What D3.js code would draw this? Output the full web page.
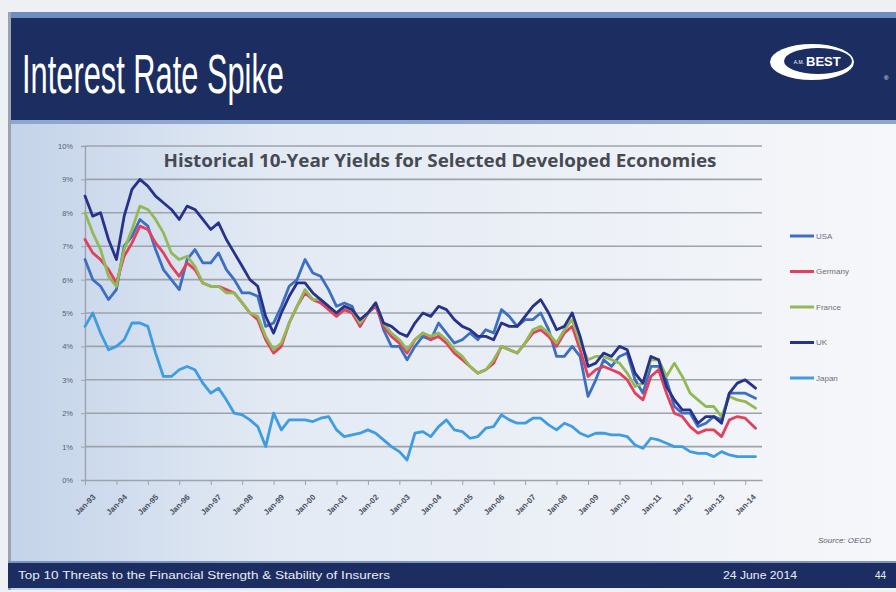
<!DOCTYPE html>
<html>
<head>
<meta charset="utf-8">
<script src="https://cdn.jsdelivr.net/npm/d3@7"></script>
<style>
  html, body { margin: 0; padding: 0; background: #eef0f3; }
  svg { display: block; }
</style>
</head>
<body>
<svg id="slide" width="896" height="592"></svg>
<script>
// Quarterly observations, Jan-93 .. Jan-14, plus the latest reading (May-14)
const seriesNames = ["USA", "Germany", "France", "UK", "Japan"];
const seriesColors = ["#3d6fc0", "#e2405c", "#93b956", "#27338a", "#3f9ce0"];

const usa = [
  6.6, 6.0, 5.8, 5.4,  5.7, 7.0, 7.3, 7.8,  7.6, 6.9, 6.3, 6.0,  5.7, 6.6, 6.9, 6.5,
  6.5, 6.8, 6.3, 6.0,  5.6, 5.6, 5.5, 4.6,  4.7, 5.2, 5.8, 6.0,  6.6, 6.2, 6.1, 5.7,
  5.2, 5.3, 5.2, 4.6,  5.0, 5.3, 4.5, 4.0,  4.0, 3.6, 4.0, 4.3,  4.2, 4.7, 4.4, 4.1,
  4.2, 4.4, 4.2, 4.5,  4.4, 5.1, 4.9, 4.6,  4.8, 4.8, 5.0, 4.5,  3.7, 3.7, 4.0, 3.7,
  2.5, 3.0, 3.6, 3.4,  3.7, 3.8, 3.0, 2.6,  3.4, 3.4, 3.0, 2.2,  2.0, 2.0, 1.6, 1.7,
  1.9, 1.8, 2.6, 2.6,  2.6, 2.45
];
const germany = [
  7.2, 6.8, 6.6, 6.3,  5.9, 6.7, 7.1, 7.6,  7.5, 7.1, 6.8, 6.4,  6.1, 6.5, 6.3, 5.9,
  5.8, 5.8, 5.7, 5.6,  5.3, 5.0, 4.8, 4.2,  3.8, 4.0, 4.7, 5.2,  5.6, 5.4, 5.3, 5.1,
  4.9, 5.1, 5.0, 4.6,  5.0, 5.2, 4.6, 4.3,  4.1, 3.8, 4.2, 4.4,  4.2, 4.3, 4.1, 3.8,
  3.6, 3.4, 3.2, 3.3,  3.5, 4.0, 3.9, 3.8,  4.1, 4.4, 4.5, 4.3,  4.0, 4.4, 4.6, 3.9,
  3.1, 3.3, 3.4, 3.3,  3.2, 3.0, 2.6, 2.4,  3.1, 3.3, 2.6, 2.0,  1.9, 1.6, 1.4, 1.5,
  1.5, 1.3, 1.8, 1.9,  1.85, 1.55
];
const france = [
  8.0, 7.4, 6.9, 6.1,  5.8, 6.9, 7.5, 8.2,  8.1, 7.8, 7.4, 6.8,  6.6, 6.7, 6.4, 5.9,
  5.8, 5.8, 5.6, 5.6,  5.3, 5.0, 4.9, 4.3,  3.9, 4.1, 4.7, 5.2,  5.7, 5.4, 5.4, 5.2,
  5.0, 5.2, 5.1, 4.7,  5.0, 5.3, 4.7, 4.4,  4.2, 3.9, 4.2, 4.4,  4.3, 4.4, 4.2, 3.9,
  3.7, 3.4, 3.2, 3.3,  3.6, 4.0, 3.9, 3.8,  4.1, 4.5, 4.6, 4.4,  4.1, 4.5, 4.8, 4.1,
  3.6, 3.7, 3.7, 3.6,  3.5, 3.2, 2.8, 2.9,  3.6, 3.6, 3.1, 3.5,  3.1, 2.6, 2.4, 2.2,
  2.2, 1.9, 2.5, 2.4,  2.35, 2.15
];
const uk = [
  8.5, 7.9, 8.0, 7.2,  6.6, 7.9, 8.7, 9.0,  8.8, 8.5, 8.3, 8.1,  7.8, 8.2, 8.1, 7.8,
  7.5, 7.7, 7.2, 6.8,  6.4, 6.0, 5.8, 4.9,  4.4, 5.0, 5.5, 5.9,  5.9, 5.6, 5.4, 5.2,
  5.0, 5.2, 5.1, 4.8,  5.0, 5.3, 4.7, 4.6,  4.4, 4.3, 4.7, 5.0,  4.9, 5.2, 5.1, 4.8,
  4.6, 4.5, 4.3, 4.3,  4.2, 4.7, 4.6, 4.6,  4.9, 5.2, 5.4, 5.0,  4.5, 4.6, 5.0, 4.3,
  3.4, 3.5, 3.8, 3.7,  4.0, 3.9, 3.2, 2.9,  3.7, 3.6, 2.8, 2.4,  2.1, 2.1, 1.7, 1.9,
  1.9, 1.7, 2.6, 2.9,  3.0, 2.75
];
const japan = [
  4.6, 5.0, 4.4, 3.9,  4.0, 4.2, 4.7, 4.7,  4.6, 3.8, 3.1, 3.1,  3.3, 3.4, 3.3, 2.9,
  2.6, 2.75, 2.4, 2.0, 1.95, 1.8, 1.6, 1.0, 2.0, 1.5, 1.8, 1.8,  1.8, 1.75, 1.85, 1.9,
  1.5, 1.3, 1.35, 1.4, 1.5, 1.4, 1.2, 1.0,  0.85, 0.6, 1.4, 1.45, 1.3, 1.6, 1.8, 1.5,
  1.45, 1.25, 1.3, 1.55, 1.6, 1.95, 1.8, 1.7, 1.7, 1.85, 1.85, 1.65, 1.5, 1.7, 1.6, 1.4,
  1.3, 1.4, 1.4, 1.35, 1.35, 1.3, 1.05, 0.95, 1.25, 1.2, 1.1, 1.0,  1.0, 0.85, 0.8, 0.8,
  0.7, 0.85, 0.75, 0.7, 0.7, 0.7
];
const yTicks = [0, 1, 2, 3, 4, 5, 6, 7, 8, 9, 10];

const dates = d3.timeMonth.range(new Date(1993, 0, 1), new Date(2014, 1, 1), 3)
  .concat([new Date(2014, 4, 1)]);
const yearTicks = d3.timeYear.range(new Date(1993, 0, 1), new Date(2014, 1, 1));
const seriesValues = [usa, germany, france, uk, japan];

const svg = d3.select("#slide");
const defs = svg.append("defs");

// ---- slide frame -------------------------------------------------------
const bg = defs.append("linearGradient").attr("id", "panelBg")
  .attr("x1", "0").attr("x2", "1").attr("y1", "0").attr("y2", "0");
bg.append("stop").attr("offset", "0").attr("stop-color", "#c3d3e9");
bg.append("stop").attr("offset", "0.3").attr("stop-color", "#e3eaf4");
bg.append("stop").attr("offset", "1").attr("stop-color", "#f6f7fa");

svg.append("rect").attr("x", 8).attr("y", 12).attr("width", 888).attr("height", 578)
  .attr("fill", "url(#panelBg)");
svg.append("rect").attr("x", 8).attr("y", 12).attr("width", 888).attr("height", 6)
  .attr("fill", "#6f8cc0");
svg.append("rect").attr("x", 8).attr("y", 18).attr("width", 888).attr("height", 102)
  .attr("fill", "#1c2e61");
svg.append("rect").attr("x", 8).attr("y", 120).attr("width", 888).attr("height", 4)
  .attr("fill", "#8fa6cf");
svg.append("rect").attr("x", 8).attr("y", 12).attr("width", 3).attr("height", 578)
  .attr("fill", "#9aa3b0");

svg.append("text")
  .attr("x", 22).attr("y", 93)
  .attr("textLength", 262).attr("lengthAdjust", "spacingAndGlyphs")
  .attr("font-family", "'Liberation Sans Narrow', 'Arial Narrow', 'Liberation Sans', sans-serif")
  .attr("font-size", 56).attr("fill", "#ffffff")
  .text("Interest Rate Spike");

// logo
const logo = svg.append("g");
logo.append("ellipse").attr("cx", 812).attr("cy", 62).attr("rx", 42).attr("ry", 18).attr("fill", "#ffffff");
logo.append("ellipse").attr("cx", 818).attr("cy", 61).attr("rx", 34).attr("ry", 13).attr("fill", "#1c2e61");
logo.append("text").attr("x", 806).attr("y", 66)
  .attr("font-family", "'Liberation Sans', Arial, sans-serif").attr("font-weight", "bold")
  .attr("font-size", 13).attr("fill", "#ffffff").text("BEST");
logo.append("text").attr("x", 804).attr("y", 64).attr("text-anchor", "end")
  .attr("font-family", "'Liberation Sans', Arial, sans-serif").attr("font-size", 5)
  .attr("fill", "#ffffff").text("A.M.");
logo.append("text").attr("x", 884).attr("y", 80)
  .attr("font-family", "'Liberation Sans', Arial, sans-serif").attr("font-size", 6)
  .attr("fill", "#ffffff").text("®");

// footer
svg.append("rect").attr("x", 8).attr("y", 563).attr("width", 888).attr("height", 25)
  .attr("fill", "#1c2e61");
svg.append("rect").attr("x", 8).attr("y", 561).attr("width", 888).attr("height", 2)
  .attr("fill", "#7d93bf");
const footFont = "'Liberation Sans Narrow', 'Arial Narrow', 'Liberation Sans', sans-serif";
svg.append("text").attr("x", 18).attr("y", 579)
  .attr("textLength", 372).attr("lengthAdjust", "spacingAndGlyphs")
  .attr("font-family", footFont).attr("font-size", 10).attr("fill", "#e8ecf5")
  .text("Top 10 Threats to the Financial Strength & Stability of Insurers");
svg.append("text").attr("x", 723).attr("y", 579)
  .attr("textLength", 74).attr("lengthAdjust", "spacingAndGlyphs")
  .attr("font-family", footFont).attr("font-size", 10).attr("fill", "#e8ecf5")
  .text("24 June 2014");
svg.append("text").attr("x", 875).attr("y", 579)
  .attr("font-family", footFont).attr("font-size", 10).attr("fill", "#e8ecf5")
  .text("44");

// ---- chart ---------------------------------------------------------------
const x = d3.scaleTime()
  .domain([new Date(1993, 0, 1), new Date(2014, 6, 15)])
  .range([85, 762]);
const y = d3.scaleLinear().domain([0, 10]).range([480, 146]);

const chart = svg.append("g");

// horizontal gridlines
chart.append("g")
  .selectAll("line").data(yTicks.filter(d => d > 0)).join("line")
  .attr("x1", x.range()[0]).attr("x2", x.range()[1])
  .attr("y1", d => y(d)).attr("y2", d => y(d))
  .attr("stroke", "#9ea3ab").attr("stroke-width", 1.6);

// y axis
const yAxis = chart.append("g").attr("transform", `translate(${x.range()[0]},0)`)
  .call(d3.axisLeft(y).tickValues(yTicks).tickFormat(d => d + "%").tickSize(4).tickPadding(8));
yAxis.select(".domain").attr("stroke", "#9ea3ab").attr("stroke-width", 1.4);
yAxis.selectAll(".tick line").attr("stroke", "#9ea3ab");
yAxis.selectAll("text")
  .attr("font-family", "'Liberation Sans', Arial, sans-serif")
  .attr("font-size", 7.5).attr("fill", "#5a6070");

// x axis
const xAxis = chart.append("g").attr("transform", `translate(0,${y(0)})`)
  .call(d3.axisBottom(x).tickValues(yearTicks).tickFormat(d3.timeFormat("%b-%y"))
    .tickSize(5).tickSizeOuter(0));
xAxis.select(".domain").attr("stroke", "#9ea3ab").attr("stroke-width", 1.6);
xAxis.selectAll(".tick line").attr("stroke", "#9ea3ab");
xAxis.selectAll("text")
  .attr("font-family", "'Liberation Sans', Arial, sans-serif")
  .attr("font-weight", "bold")
  .attr("font-size", 8).attr("fill", "#4a5060")
  .attr("text-anchor", "end")
  .attr("dy", "0.35em")
  .attr("transform", "translate(3,10) rotate(-45)");

// chart title
chart.append("text")
  .attr("x", 440).attr("y", 167).attr("text-anchor", "middle")
  .attr("textLength", 553).attr("lengthAdjust", "spacingAndGlyphs")
  .attr("font-family", "'Open Sans', 'Noto Sans', sans-serif").attr("font-weight", "bold")
  .attr("font-size", 17).attr("fill", "#474a52")
  .text("Historical 10-Year Yields for Selected Developed Economies");

// series lines
const line = d3.line()
  .x((d, i) => x(dates[i]))
  .y(d => y(d));

chart.append("g").selectAll("path").data(seriesValues).join("path")
  .attr("d", d => line(d))
  .attr("fill", "none")
  .attr("stroke", (d, i) => seriesColors[i])
  .attr("stroke-width", 2.8)
  .attr("stroke-linejoin", "round")
  .attr("stroke-linecap", "round");

// legend
const legend = chart.append("g").selectAll("g").data(seriesNames).join("g")
  .attr("transform", (d, i) => `translate(790,${236 + i * 35.5})`);
legend.append("line").attr("x1", 0).attr("x2", 24).attr("y1", 0).attr("y2", 0)
  .attr("stroke", (d, i) => seriesColors[i]).attr("stroke-width", 3);
legend.append("text").attr("x", 26).attr("y", 0).attr("dy", "0.35em")
  .attr("font-family", "'Liberation Sans', Arial, sans-serif")
  .attr("font-size", 8).attr("fill", "#6a7080")
  .text(d => d);

// source note
chart.append("text").attr("x", 818).attr("y", 543)
  .attr("font-family", "'Liberation Sans', Arial, sans-serif").attr("font-style", "italic")
  .attr("font-size", 8).attr("fill", "#5a6070")
  .text("Source: OECD");
</script>
</body>
</html>
